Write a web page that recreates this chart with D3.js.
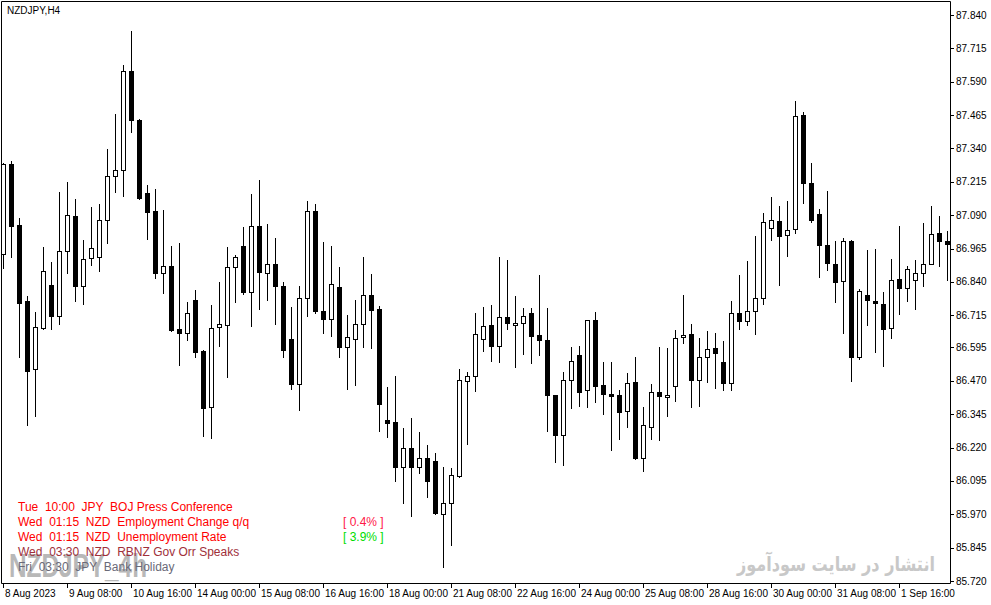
<!DOCTYPE html>
<html>
<head>
<meta charset="utf-8">
<script src="https://cdn.jsdelivr.net/npm/d3@7"></script>
<style>
  body { margin: 0; background: #fff; }
  text { font-family: "Liberation Sans", Arial, sans-serif; }
</style>
</head>
<body>
<div id="chart"></div>
<script>
// NZDJPY H4 candles, 8 Aug 2023 00:00 .. 4 Sep 2023 16:00 (index = bar number)
const open = [86.944,87.282,87.053,86.769,86.513,86.667,86.828,86.711,86.955,87.086,
  86.826,86.929,86.932,87.071,87.236,87.258,87.629,87.446,87.172,87.105,
  86.873,86.899,86.663,86.648,86.771,86.582,86.373,86.670,86.678,86.895,
  86.975,86.804,87.050,86.875,86.907,86.825,86.626,86.459,86.780,87.106,
  86.731,86.702,86.821,86.598,86.628,86.684,86.791,86.739,86.323,86.316,
  86.148,86.218,86.148,86.181,86.170,85.972,86.011,86.112,86.468,86.487,
  86.625,86.678,86.601,86.708,86.678,86.685,86.723,86.641,86.622,86.416,
  86.266,86.472,86.565,86.434,86.696,86.453,86.419,86.416,86.356,86.464,
  86.180,86.296,86.427,86.408,86.449,86.633,86.644,86.472,86.558,86.592,
  86.539,86.460,86.723,86.693,86.730,86.779,87.041,87.067,87.015,87.037,
  87.464,87.210,87.093,86.977,86.906,86.843,86.992,86.560,86.790,86.769,
  86.756,86.667,86.850,86.816,86.846,86.873,86.908,87.022,86.992];
const high = [87.285,87.293,87.080,86.787,86.726,86.970,86.914,87.176,87.213,87.150,
  86.997,87.121,87.132,87.338,87.469,87.653,87.780,87.449,87.203,87.187,
  87.109,86.975,86.986,86.765,86.810,86.585,86.754,86.840,86.970,86.941,
  87.046,87.171,87.222,87.057,87.005,86.839,86.746,86.825,87.142,87.133,
  86.990,86.975,86.896,86.716,86.773,86.934,86.870,86.750,86.447,86.488,
  86.293,86.331,86.278,86.229,86.198,86.147,86.142,86.515,86.502,86.724,
  86.746,86.754,86.934,86.922,86.787,86.744,86.743,86.866,86.743,86.418,
  86.503,86.596,86.600,86.698,86.728,86.539,86.539,86.434,86.498,86.558,
  86.371,86.457,86.595,86.592,86.659,86.790,86.681,86.629,86.655,86.648,
  86.619,86.769,86.866,86.919,87.012,87.098,87.158,87.125,87.143,87.518,
  87.477,87.286,87.113,87.181,86.992,87.004,86.996,86.813,86.959,86.962,
  86.801,86.925,87.049,86.899,86.921,87.060,87.123,87.086,87.030];
const low = [86.891,86.935,86.560,86.304,86.338,86.663,86.665,86.684,86.875,86.769,
  86.759,86.904,86.882,86.987,87.177,87.163,87.403,87.152,87.002,86.856,
  86.800,86.655,86.530,86.624,86.560,86.264,86.256,86.601,86.485,86.766,
  86.796,86.676,86.740,86.773,86.683,86.560,86.440,86.362,86.713,86.724,
  86.650,86.639,86.560,86.440,86.454,86.598,86.593,86.283,86.261,86.096,
  86.013,85.965,86.123,86.036,85.971,85.771,85.856,86.110,86.234,86.433,
  86.583,86.545,86.541,86.665,86.523,86.571,86.538,86.568,86.283,86.167,
  86.156,86.369,86.377,86.373,86.392,86.347,86.212,86.253,86.298,86.178,
  86.133,86.253,86.249,86.339,86.395,86.613,86.373,86.377,86.467,86.442,
  86.435,86.435,86.665,86.680,86.646,86.759,86.998,86.830,86.938,87.025,
  87.137,87.066,86.860,86.886,86.766,86.650,86.470,86.553,86.680,86.579,
  86.526,86.631,86.719,86.770,86.740,86.826,86.906,86.901,86.849];
const close = [87.282,87.051,86.762,86.508,86.670,86.880,86.711,86.955,87.090,86.826,
  86.925,86.966,87.071,87.236,87.258,87.629,87.448,87.156,87.101,86.873,
  86.899,86.661,86.648,86.723,86.579,86.369,86.667,86.683,86.895,86.935,
  86.804,87.049,86.879,86.906,86.826,86.586,86.459,86.780,87.106,86.731,
  86.702,86.832,86.598,86.633,86.683,86.791,86.736,86.384,86.313,86.148,
  86.218,86.148,86.180,86.096,85.976,86.012,86.116,86.473,86.487,86.644,
  86.674,86.601,86.708,86.685,86.685,86.711,86.639,86.622,86.416,86.266,
  86.472,86.543,86.429,86.696,86.451,86.419,86.412,86.352,86.460,86.182,
  86.303,86.427,86.412,86.416,86.629,86.640,86.472,86.558,86.588,86.573,
  86.460,86.723,86.693,86.730,86.779,87.064,87.071,87.011,87.034,87.461,
  87.210,87.073,86.977,86.910,86.841,86.992,86.560,86.805,86.771,86.760,
  86.663,86.846,86.816,86.888,86.873,86.906,87.019,86.992,86.981];

// price axis labels (as printed by the terminal)
const priceTicks = [87.840,87.715,87.590,87.465,87.340,87.215,87.090,86.965,86.840,
  86.715,86.595,86.470,86.345,86.220,86.095,85.970,85.845,85.720];

// time axis: bar index and label
const timeTickIdx = [0,8,16,24,32,40,48,56,64,72,80,88,96,104,112];
const timeTickText = ["8 Aug 2023","9 Aug 08:00","10 Aug 16:00","14 Aug 00:00","15 Aug 08:00",
  "16 Aug 16:00","18 Aug 00:00","21 Aug 08:00","22 Aug 16:00","24 Aug 00:00",
  "25 Aug 08:00","28 Aug 16:00","30 Aug 00:00","31 Aug 08:00","1 Sep 16:00"];

// news panel
const newsLines = ["Tue  10:00  JPY  BOJ Press Conference",
  "Wed  01:15  NZD  Employment Change q/q",
  "Wed  01:15  NZD  Unemployment Rate",
  "Wed  03:30  NZD  RBNZ Gov Orr Speaks",
  "Fri  03:30  JPY  Bank Holiday"];
const newsColors = ["#ff0000","#ff0000","#ff0000","#a0303a","#6a6a78"];
const newsValues = [null, "[ 0.4% ]", "[ 3.9% ]", null, null];
const newsValueColors = [null, "#ff1848", "#00dd00", null, null];

const W = 991, H = 605;
const plotRight = 950, plotBottom = 584;

const svg = d3.select("#chart").append("svg")
    .attr("width", W)
    .attr("height", H);
svg.append("rect").attr("width", W).attr("height", H).attr("fill", "#fff");

const x = d3.scaleLinear().domain([0, 118]).range([3.5, 947.5]);
const y = d3.scaleLinear().domain([85.720, 87.840]).range([581, 15]);
const py = v => Math.round(y(v)) + 0.5;

const plot = svg.append("g");
plot.append("defs").append("clipPath").attr("id", "clip")
  .append("rect").attr("x", 1).attr("y", 1).attr("width", plotRight - 1).attr("height", plotBottom - 1);

// watermarks
plot.append("text")
    .attr("x", 9).attr("y", 577)
    .attr("textLength", 138).attr("lengthAdjust", "spacingAndGlyphs")
    .style("font-size", "33px").style("font-weight", "bold")
    .attr("fill", "#b8b8b8")
    .text("NZDJPY_4h");
plot.append("text")
    .attr("x", 836).attr("y", 571)
    .attr("text-anchor", "middle")
    .attr("textLength", 198).attr("lengthAdjust", "spacingAndGlyphs")
    .style("font-family", "'DejaVu Sans', sans-serif")
    .style("font-size", "20px").style("font-weight", "bold")
    .attr("fill", "#c8c8c8")
    .text("انتشار در سایت سودآموز");

// candles
const bars = d3.range(open.length);
const cg = plot.append("g").attr("clip-path", "url(#clip)");
cg.selectAll("line.wick")
  .data(bars)
  .enter().append("line")
    .attr("class", "wick")
    .attr("x1", i => x(i)).attr("x2", i => x(i))
    .attr("y1", i => py(high[i]) - 0.5).attr("y2", i => py(low[i]) + 0.5)
    .attr("stroke", "#000").attr("stroke-width", 1);
cg.selectAll("rect.body")
  .data(bars)
  .enter().append("rect")
    .attr("class", "body")
    .attr("x", i => x(i) - 2)
    .attr("width", 4)
    .attr("y", i => py(Math.max(open[i], close[i])))
    .attr("height", i => Math.max(0, py(Math.min(open[i], close[i])) - py(Math.max(open[i], close[i]))))
    .attr("fill", i => close[i] >= open[i] ? "#fff" : "#000")
    .attr("stroke", "#000").attr("stroke-width", 1);

// frame
svg.append("path")
    .attr("d", `M1.5,1.5H${plotRight + 0.5}V${plotBottom - 0.5}H1.5Z`)
    .attr("fill", "none").attr("stroke", "#000");

// price axis
const pa = svg.append("g");
pa.selectAll("line").data(priceTicks).enter().append("line")
    .attr("x1", plotRight + 0.5).attr("x2", plotRight + 4)
    .attr("y1", d => py(d)).attr("y2", d => py(d))
    .attr("stroke", "#000");
pa.selectAll("text").data(priceTicks).enter().append("text")
    .attr("x", 956).attr("y", d => y(d) + 3.5)
    .style("font-size", "10px").attr("fill", "#000")
    .text(d => d.toFixed(3));

// time axis
const ta = svg.append("g");
ta.selectAll("line").data(timeTickIdx).enter().append("line")
    .attr("x1", i => x(i)).attr("x2", i => x(i))
    .attr("y1", plotBottom - 0.5).attr("y2", plotBottom + 4)
    .attr("stroke", "#000");
ta.selectAll("text").data(timeTickIdx).enter().append("text")
    .attr("x", i => x(i) + 1.5).attr("y", 597)
    .style("font-size", "10px").attr("fill", "#000")
    .text((i, k) => timeTickText[k]);

// symbol title
svg.append("text")
    .attr("x", 7).attr("y", 14)
    .style("font-size", "10px").attr("fill", "#000")
    .text("NZDJPY,H4");

// news panel
const news = svg.append("g");
news.selectAll("text.ev").data(newsLines).enter().append("text")
    .attr("class", "ev")
    .attr("x", 18).attr("y", (d, k) => 511 + k * 15)
    .style("font-size", "12px").style("white-space", "pre")
    .attr("fill", (d, k) => newsColors[k])
    .text(d => d);
news.selectAll("text.val").data(newsValues).enter().append("text")
    .attr("class", "val")
    .attr("x", 343).attr("y", (d, k) => 526 + (k - 1) * 15)
    .style("font-size", "12px").style("white-space", "pre")
    .attr("fill", (d, k) => newsValueColors[k] || "none")
    .text(d => d || "");
</script>
</body>
</html>
